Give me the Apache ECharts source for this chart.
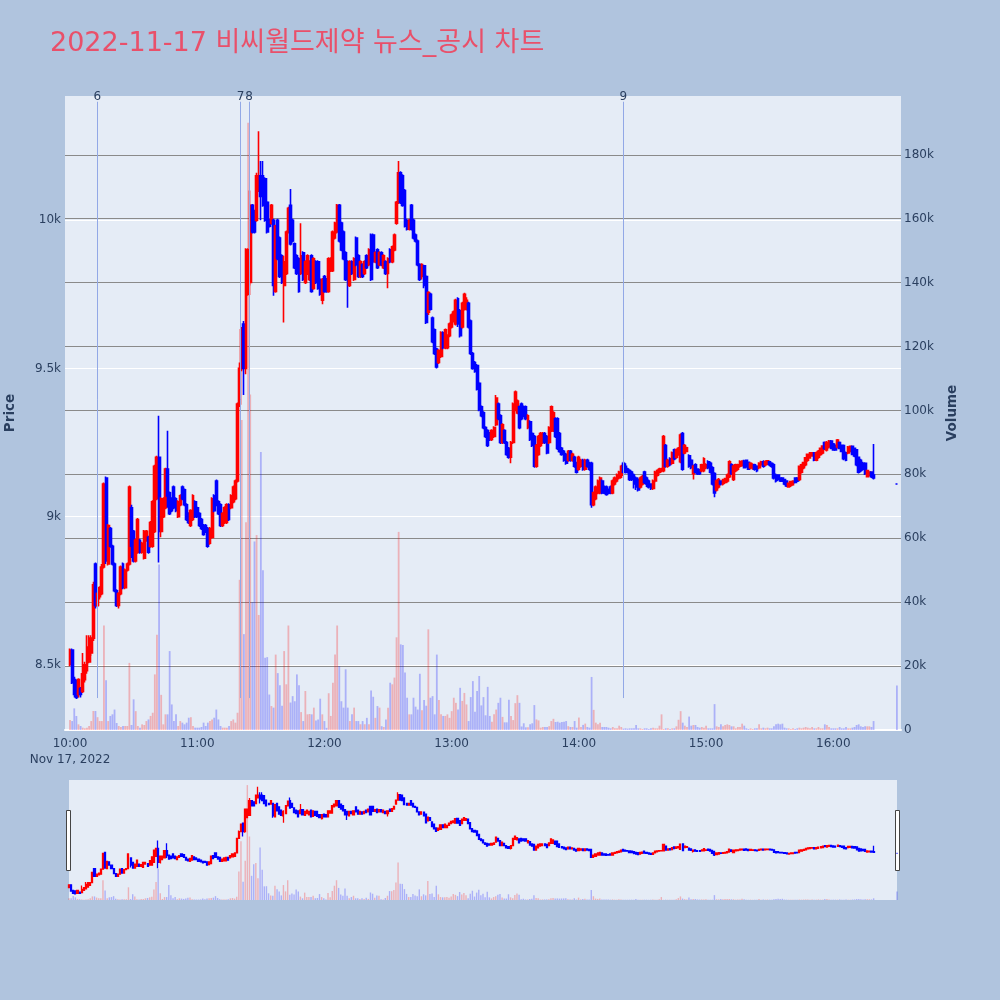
<!DOCTYPE html>
<html><head><meta charset="utf-8">
<script src="https://cdn.jsdelivr.net/npm/echarts@6/dist/echarts.min.js"></script>
<style>html,body{margin:0;padding:0;background:#b0c4de}#c{width:1000px;height:1000px}</style>
</head><body><div id="c"></div>
<script>
const chartTitle = '2022-11-17 비씨월드제약 뉴스_공시 차트';
const sessionDate = [2022, 10, 17];
const monthNames = ['Jan','Feb','Mar','Apr','May','Jun','Jul','Aug','Sep','Oct','Nov','Dec'];
const sessionOpen = '10:00';
const closingAuction = '16:30';
const viewStart = '09:57:38';
const viewEnd = '16:31:56';
// [open, close, low, high] per minute from 10:00; last row = 16:30 closing auction
const candles = [
[8500,8550,8495,8555],[8550,8440,8435,8555],[8450,8400,8390,8460],[8440,8390,8385,8450],[8400,8450,8390,8455],[8420,8400,8390,8425],[8410,8470,8405,8540],[8450,8500,8440,8510],[8480,8560,8470,8600],[8510,8590,8505,8600],
[8540,8590,8530,8600],[8590,8770,8580,8780],[8840,8700,8690,8845],[8700,8740,8695,8745],[8730,8760,8720,8765],[8740,8830,8735,8840],[8830,9110,8825,9115],[9130,8850,8840,9135],[8840,8970,8835,8975],[8960,8900,8895,8965],
[8900,8840,8835,8905],[8840,8750,8745,8845],[8750,8700,8695,8755],[8700,8740,8690,8745],[8740,8830,8735,8835],[8840,8760,8755,8845],[8760,8820,8755,8825],[8820,8840,8815,8845],[8840,9100,8835,9105],[9030,8900,8860,9040],
[8950,8850,8845,8955],[8850,8920,8845,8925],[8880,8990,8875,8995],[8920,8880,8875,8925],[8880,8910,8875,8915],[8860,8950,8855,8955],[8920,8950,8915,8955],[8930,8880,8875,8935],[8900,8980,8895,8985],[8900,9050,8895,9055],
[8950,9170,8945,9175],[9060,9200,9055,9205],[9200,8950,8845,9340],[8950,9060,8930,9065],[9000,9060,8995,9065],[9030,9160,9025,9165],[9160,9070,9030,9290],[9080,9010,9005,9085],[9060,9020,9015,9065],[9100,9030,9025,9105],
[9060,9020,9015,9065],[9000,9050,8995,9055],[9040,9070,9035,9075],[9100,9060,9055,9105],[9090,9040,9035,9095],[9040,8990,8985,9045],[9010,8980,8975,9015],[8970,9020,8965,9025],[8990,9070,8985,9075],[9050,9000,8995,9055],
[9030,9000,8995,9035],[9010,8970,8965,9015],[8990,8960,8955,8995],[8970,8940,8935,8975],[8970,8950,8945,8975],[8960,8900,8895,8965],[8910,8960,8905,8965],[8930,9060,8925,9065],[9070,9020,9015,9075],[9120,9040,9035,9125],
[9050,9010,9005,9055],[9040,8970,8965,9045],[8970,9010,8965,9015],[8980,9030,8975,9035],[8980,9040,8975,9045],[9040,8990,8985,9045],[9030,9070,9025,9075],[9050,9100,9045,9105],[9060,9120,9055,9125],[9120,9380,9115,9385],
[9380,9500,9370,9520],[9500,9630,9490,9640],[9650,9500,9410,9660],[9500,9900,9480,9905],[9750,9900,9745,9905],[9790,10050,9780,10100],[10050,9960,9955,10055],[10030,9960,9955,10035],[10000,10150,9995,10160],[10100,10150,10095,10300],
[10150,10080,10000,10200],[10150,10050,10045,10200],[10140,10000,9995,10145],[10060,9960,9955,10065],[10000,9980,9975,10005],[9990,10050,9985,10055],[10000,9780,9745,10005],[9760,9980,9755,9985],[10000,9870,9865,10005],[9940,9810,9805,9945],
[9880,9790,9785,9885],[9780,9860,9655,9880],[9820,9960,9815,9965],[9960,10040,9955,10045],[10050,9920,9915,10105],[10000,9930,9925,10005],[9920,9840,9835,9925],[9880,9820,9815,9885],[9870,9760,9755,9875],[9820,9880,9815,9990],
[9890,9800,9795,9895],[9790,9860,9785,9865],[9820,9880,9815,9885],[9800,9860,9795,9865],[9880,9760,9755,9885],[9770,9870,9765,9875],[9860,9790,9785,9865],[9860,9770,9765,9865],[9800,9750,9745,9805],[9730,9800,9716,9805],
[9810,9760,9755,9815],[9800,9760,9755,9805],[9760,9870,9755,9875],[9830,9870,9825,9875],[9830,9960,9825,9965],[9940,9990,9935,9995],[9960,10050,9955,10055],[10050,9930,9925,10055],[9990,9900,9895,9995],[9960,9870,9865,9965],
[9890,9800,9795,9895],[9860,9800,9705,9865],[9780,9860,9775,9865],[9860,9820,9815,9865],[9800,9870,9795,9875],[9940,9850,9845,9945],[9880,9810,9805,9885],[9810,9860,9805,9865],[9850,9810,9805,9855],[9820,9860,9815,9865],
[9880,9840,9835,9885],[9850,9900,9845,9905],[9950,9800,9795,9955],[9950,9860,9855,9955],[9860,9890,9855,9895],[9900,9840,9835,9905],[9850,9890,9845,9895],[9890,9850,9845,9895],[9840,9880,9835,9885],[9860,9820,9815,9865],
[9820,9870,9770,9875],[9900,9860,9855,9905],[9860,9910,9855,9915],[9900,9950,9895,9955],[9990,10060,9985,10065],[10060,10160,10055,10200],[10160,10060,10055,10165],[10150,10050,10045,10155],[10100,9980,9975,10105],[10000,9970,9965,10005],
[9970,10000,9965,10005],[10050,9970,9965,10055],[10000,9940,9935,10005],[9950,9930,9925,9955],[9930,9850,9845,9935],[9850,9800,9795,9855],
[9810,9850,9800,9855],[9846,9780,9770,9850],[9810,9655,9650,9815],[9690,9756,9680,9760],[9750,9700,9695,9755],[9670,9590,9585,9675],[9630,9550,9545,9635],[9565,9505,9500,9570],[9520,9560,9515,9565],[9540,9620,9535,9625],
[9620,9570,9565,9625],[9570,9630,9565,9635],[9570,9610,9565,9615],[9610,9650,9605,9655],[9640,9680,9635,9685],[9660,9690,9655,9695],[9650,9730,9645,9735],[9735,9650,9640,9740],[9694,9610,9604,9700],[9640,9720,9635,9725],
[9700,9750,9695,9755],[9700,9730,9695,9740],[9720,9640,9635,9725],[9660,9550,9545,9665],[9550,9500,9495,9555],[9520,9490,9485,9525],[9510,9430,9425,9515],[9450,9360,9355,9455],[9370,9340,9335,9375],[9350,9300,9295,9355],
[9300,9270,9265,9305],[9290,9240,9235,9295],[9280,9260,9255,9285],[9260,9290,9255,9295],[9270,9300,9265,9305],[9310,9400,9305,9410],[9380,9330,9325,9385],[9340,9250,9245,9345],[9250,9310,9245,9315],[9290,9250,9245,9295],
[9250,9210,9205,9255],[9230,9200,9195,9235],[9200,9250,9180,9255],[9250,9380,9245,9385],[9360,9420,9355,9425],[9350,9390,9345,9395],[9370,9300,9295,9375],[9380,9330,9325,9385],[9370,9340,9335,9375],[9370,9330,9325,9375],
[9300,9340,9295,9345],[9320,9260,9255,9325],[9280,9240,9235,9285],[9270,9170,9165,9275],[9170,9240,9165,9245],[9210,9270,9205,9275],[9240,9280,9235,9285],[9250,9280,9245,9285],[9280,9250,9245,9285],[9270,9215,9210,9275],
[9250,9300,9245,9305],[9290,9370,9285,9375],[9290,9350,9285,9355],[9330,9270,9265,9335],[9330,9230,9225,9335],[9280,9220,9215,9285],[9230,9210,9205,9235],[9220,9190,9185,9225],[9210,9180,9175,9215],[9190,9220,9185,9225],
[9220,9190,9185,9225],[9190,9210,9185,9215],[9200,9170,9165,9205],[9180,9150,9145,9185],[9160,9200,9155,9205],[9170,9190,9165,9195],[9190,9160,9155,9195],[9160,9190,9155,9195],[9190,9170,9165,9195],[9180,9160,9155,9185],
[9180,9040,9030,9185],[9040,9080,9035,9085],[9060,9100,9055,9105],[9080,9120,9075,9125],[9080,9130,9075,9135],[9120,9080,9075,9125],[9100,9080,9075,9105],[9100,9075,9070,9105],[9090,9080,9075,9095],[9100,9080,9075,9105],
[9080,9120,9075,9125],[9110,9130,9105,9135],[9120,9140,9115,9145],[9130,9150,9125,9155],
[9140,9170,9130,9175],[9180,9150,9145,9185],[9170,9150,9145,9180],[9160,9150,9145,9165],[9155,9125,9120,9160],[9150,9125,9120,9155],[9140,9110,9095,9145],[9130,9100,9090,9135],[9125,9090,9085,9130],[9100,9130,9095,9135],
[9110,9135,9105,9140],[9150,9115,9110,9155],[9130,9110,9100,9135],[9120,9100,9095,9125],[9110,9095,9090,9112],[9095,9120,9090,9125],[9120,9150,9115,9155],[9140,9155,9135,9160],[9150,9160,9145,9165],[9155,9160,9150,9165],
[9155,9270,9150,9275],[9240,9170,9165,9245],[9170,9190,9165,9195],[9195,9175,9170,9200],[9180,9215,9175,9220],[9225,9195,9190,9230],[9200,9225,9195,9230],[9210,9230,9205,9235],[9185,9275,9180,9280],[9280,9160,9155,9285],
[9215,9240,9210,9245],[9220,9232,9218,9236],[9205,9170,9165,9210],[9190,9165,9160,9195],[9145,9170,9125,9175],[9175,9150,9145,9180],[9160,9145,9140,9163],[9158,9145,9140,9160],[9155,9175,9150,9178],[9155,9195,9150,9200],
[9165,9175,9160,9180],[9185,9165,9160,9190],[9180,9150,9145,9185],[9165,9110,9105,9170],[9145,9080,9065,9150],[9090,9120,9085,9125],[9100,9125,9095,9130],[9120,9110,9105,9123],[9110,9125,9105,9128],[9115,9128,9110,9130],
[9120,9140,9115,9145],[9135,9185,9130,9190],[9175,9145,9140,9180],[9125,9170,9120,9175],[9155,9175,9150,9178],[9160,9175,9155,9178],[9170,9185,9165,9190],[9172,9187,9168,9190],[9187,9165,9162,9192],[9190,9170,9165,9193],
[9183,9160,9157,9186],[9165,9180,9160,9183],[9165,9175,9158,9180],[9175,9160,9155,9178],[9170,9155,9150,9173],[9165,9180,9160,9183],[9175,9185,9170,9188],[9185,9170,9165,9190],[9175,9185,9170,9190],[9178,9188,9174,9190],
[9185,9175,9170,9188],[9180,9170,9165,9183],[9175,9130,9125,9180],[9140,9120,9115,9145],[9140,9125,9120,9143],[9130,9120,9117,9133],[9130,9120,9117,9133],[9125,9110,9106,9128],[9120,9103,9100,9123],[9100,9112,9097,9115],
[9105,9118,9100,9120],[9108,9120,9104,9122],[9130,9115,9112,9133],[9130,9120,9117,9133],[9125,9170,9120,9172],[9150,9175,9145,9178],[9165,9182,9160,9185],[9175,9198,9170,9200],[9190,9210,9185,9213],[9198,9215,9195,9218],
[9205,9215,9202,9218],[9215,9190,9187,9218],[9190,9215,9187,9220],[9200,9220,9195,9225],[9210,9230,9205,9233],[9215,9238,9210,9240],[9250,9230,9225,9253],[9225,9250,9220,9255],[9235,9255,9230,9258],[9255,9230,9227,9258],
[9245,9225,9222,9248],[9240,9225,9222,9243],[9235,9258,9230,9262],[9250,9230,9227,9253],[9240,9220,9217,9243],[9240,9195,9190,9243],[9215,9190,9187,9220],[9215,9235,9210,9238],[9220,9237,9217,9240],[9237,9210,9207,9240],
[9230,9205,9200,9233],[9225,9175,9170,9228],[9200,9150,9145,9203],[9190,9155,9150,9195],[9180,9160,9155,9185],[9180,9145,9140,9183],[9135,9155,9132,9158],[9140,9150,9135,9153],[9150,9135,9130,9153],[9140,9130,9125,9245],
[9110,9110,9110,9110]
];
const volumes = [
3100,2800,6770,4380,1770,1250,730,520,730,1250,
2800,5940,5940,4000,2800,2800,32700,15600,2800,4400,
4900,6400,2200,1250,940,1250,1250,1250,21000,1560,
9600,5900,1250,730,1770,1560,2800,3300,4400,5400,
17400,29800,51800,11000,1770,4900,4900,24700,8000,2800,
4900,1250,2800,2300,1770,2300,3850,4000,1250,730,
730,730,940,2300,1250,2300,2800,3300,3850,6400,
3300,1250,730,730,730,1250,2800,3300,2300,5400,
47000,97000,30000,65000,190000,105000,40000,59000,61000,36000,
87000,50000,22600,22800,11100,7500,7000,23600,17800,14000,
7600,24700,14300,32700,8600,10600,9000,17400,14000,5600,
2800,12200,4900,5000,4900,7000,3000,3300,9800,4900,
2800,660,11500,4400,14800,23600,32700,20000,9000,7000,
19000,7000,2800,4900,7000,2800,2800,1800,2800,1800,
3800,1800,12400,10400,3800,7500,7000,1200,940,3300,
7000,14800,14300,16400,29000,62000,26800,26600,18000,10100,
4900,4900,10100,7300,6400,17600,6200,9400,7600,31500,
10100,10600,4900,23600,9400,4900,4400,4400,4900,3800,
5900,10100,8500,6400,13200,9100,11600,8000,2800,
10300,15300,5700,12200,16900,7700,10300,4600,13500,4400,
2600,4900,6400,8500,10100,4100,2400,2400,9500,4400,
3100,8400,10900,8500,1100,2100,840,840,1800,2100,
7800,3300,3000,730,940,940,940,1200,2800,3500,
2500,2600,2300,2500,2600,2800,1200,940,940,2800,
730,3900,940,1600,2000,940,730,16600,6300,2300,
1800,2300,940,940,940,730,520,940,520,520,
1350,940,420,520,420,520,520,520,1560,520,
520,312,520,520,312,520,730,520,520,1350,
4900,312,520,520,312,520,520,1150,3200,5900,
2300,1350,940,4200,1350,1560,1560,940,730,940,
730,1350,520,520,520,8100,1150,940,1770,1150,
1560,1770,1560,1150,1150,520,940,940,1980,1350,
520,312,520,312,520,520,1770,520,730,520,
730,520,520,1150,1770,1980,1770,1980,730,520,
520,312,520,312,520,730,520,730,940,730,
520,940,520,520,940,520,520,1770,1560,940,
520,520,520,520,940,520,520,940,520,520,
730,940,1560,1770,1150,940,1150,1150,1150,940,
2800,
13900
];
const eventLabels = ['6','7','8','9'];
const eventTimes = ['10:12:55','11:20:25','11:24:30','14:21:00'];
const eventLineFrom = 10000;
const eventLineTo = 196600;
const priceTicks = [8500, 9000, 9500, 10000];
const volumeTicks = [0, 20000, 40000, 60000, 80000, 100000, 120000, 140000, 160000, 180000];
const hourTicks = ['10:00','11:00','12:00','13:00','14:00','15:00','16:00'];
const priceRange = [8280, 10419];
const volumeRange = [0, 198400];

function at(hms) {
  const p = hms.split(':').map(Number);
  return new Date(sessionDate[0], sessionDate[1], sessionDate[2], p[0], p[1], p[2] || 0).getTime();
}
const t0 = at(sessionOpen);
const times = candles.map((c, i) => i === candles.length - 1 ? at(closingAuction) : t0 + i * 60000);
const candleData = candles.map((c, i) => [times[i], c[0], c[1], c[2], c[3]]);
const upColor = 'rgba(255,0,0,0.25)', downColor = 'rgba(0,0,255,0.25)';
const volData = volumes.map((v, i) => ({ value: [times[i], v], itemStyle: { color: candles[i][1] > candles[i][0] ? upColor : downColor } }));
const kFormat = v => v === 0 ? '0' : (v / 1000) + 'k';
const txt = '#2a3f5f';
const font = 'DejaVu Sans, Noto Sans CJK KR, sans-serif';
const dateLine = monthNames[sessionDate[1]] + ' ' + sessionDate[2] + ', ' + sessionDate[0];
const firstHour = at(hourTicks[0]);
const hhmm = v => { const d = new Date(v); return String(d.getHours()).padStart(2, '0') + ':' + String(d.getMinutes()).padStart(2, '0'); };

const candleStyle = { color: '#ff0000', color0: '#0000ff', borderColor: '#ff0000', borderColor0: '#0000ff', borderColorDoji: '#0000ff', borderWidth: 1.6 };

const chart = echarts.init(document.getElementById('c'));
chart.setOption({
  animation: false,
  backgroundColor: '#b0c4de',
  title: { text: chartTitle, left: 45, top: 25, textStyle: { color: '#e9506a', fontSize: 27, fontWeight: 'normal', fontFamily: font } },
  grid: [
    { left: 65, right: 99, top: 96, bottom: 270, show: true, backgroundColor: '#e5ecf6', borderWidth: 0, containLabel: false, outerBoundsMode: 'none' },
    { left: 69, right: 103, top: 780, height: 120, show: true, backgroundColor: '#e5ecf6', borderWidth: 0, containLabel: false, outerBoundsMode: 'none' }
  ],
  xAxis: [
    { type: 'value', gridIndex: 0, min: at(viewStart), max: at(viewEnd), scale: true,
      axisLine: { show: true, onZero: false, lineStyle: { color: '#ffffff', width: 2 } },
      axisTick: { show: false, customValues: hourTicks.map(h => at(h)) }, splitLine: { show: false },
      axisLabel: { customValues: hourTicks.map(h => at(h)), hideOverlap: false, color: txt, fontSize: 12, fontFamily: font, margin: 6, lineHeight: 16,
        formatter: v => v === firstHour ? hhmm(v) + '\n' + dateLine : hhmm(v) } },
    { type: 'value', gridIndex: 1, min: at(sessionOpen), max: at(closingAuction), scale: true, show: false, splitLine: { show: false } }
  ],
  yAxis: [
    { type: 'value', gridIndex: 0, position: 'left', min: priceRange[0], max: priceRange[1],
      axisLine: { show: false }, axisTick: { show: false, customValues: priceTicks },
      axisLabel: { customValues: priceTicks, formatter: kFormat, color: txt, fontSize: 12, fontFamily: font, margin: 4 },
      splitLine: { show: true, lineStyle: { color: '#ffffff', width: 1 } },
      name: 'Price', nameLocation: 'middle', nameRotate: 90, nameGap: 48,
      nameTextStyle: { color: txt, fontSize: 13.5, fontWeight: 'bold', fontFamily: font } },
    { type: 'value', gridIndex: 0, position: 'right', min: volumeRange[0], max: volumeRange[1],
      axisLine: { show: false }, axisTick: { show: false, customValues: volumeTicks.slice(1) },
      axisLabel: { customValues: volumeTicks, formatter: kFormat, color: txt, fontSize: 12, fontFamily: font, margin: 3 },
      splitLine: { show: true, lineStyle: { color: '#8a8a8a', width: 1.2 } },
      name: 'Volume', nameLocation: 'middle', nameRotate: 90, nameGap: 45,
      nameTextStyle: { color: txt, fontSize: 13.5, fontWeight: 'bold', fontFamily: font } },
    { type: 'value', gridIndex: 1, min: priceRange[0], max: priceRange[1], show: false, splitLine: { show: false } },
    { type: 'value', gridIndex: 1, min: volumeRange[0], max: volumeRange[1], show: false, splitLine: { show: false } }
  ],
  series: [
    { type: 'bar', xAxisIndex: 0, yAxisIndex: 1, data: volData, barWidth: 1.8, z: 2, silent: true,
      markLine: { silent: true, symbol: ['none', 'none'], animation: false,
        lineStyle: { color: '#92a8e6', width: 1, type: 'solid' },
        label: { show: true, position: 'end', formatter: '{b}', color: txt, fontSize: 12, fontFamily: font, distance: -1 },
        data: eventTimes.map((t, i) => [{ name: eventLabels[i], coord: [at(t), eventLineFrom] }, { coord: [at(t), eventLineTo] }]) } },
    { type: 'candlestick', xAxisIndex: 0, yAxisIndex: 0, data: candleData, barWidth: 2.4, z: 3, silent: true, itemStyle: candleStyle },
    { type: 'bar', xAxisIndex: 1, yAxisIndex: 3, data: volData, barWidth: 1.4, z: 2, silent: true },
    { type: 'candlestick', xAxisIndex: 1, yAxisIndex: 2, data: candleData, barWidth: 1.6, z: 3, silent: true, itemStyle: Object.assign({}, candleStyle, { borderWidth: 1.3 }) }
  ],
  graphic: [
    { type: 'rect', left: 66, top: 810, shape: { width: 4, height: 60 }, style: { fill: '#ffffff', stroke: '#444444', lineWidth: 1 } },
    { type: 'rect', left: 895, top: 810, shape: { width: 4, height: 60 }, style: { fill: '#ffffff', stroke: '#444444', lineWidth: 1 } }
  ]
});
</script>
</body></html>
